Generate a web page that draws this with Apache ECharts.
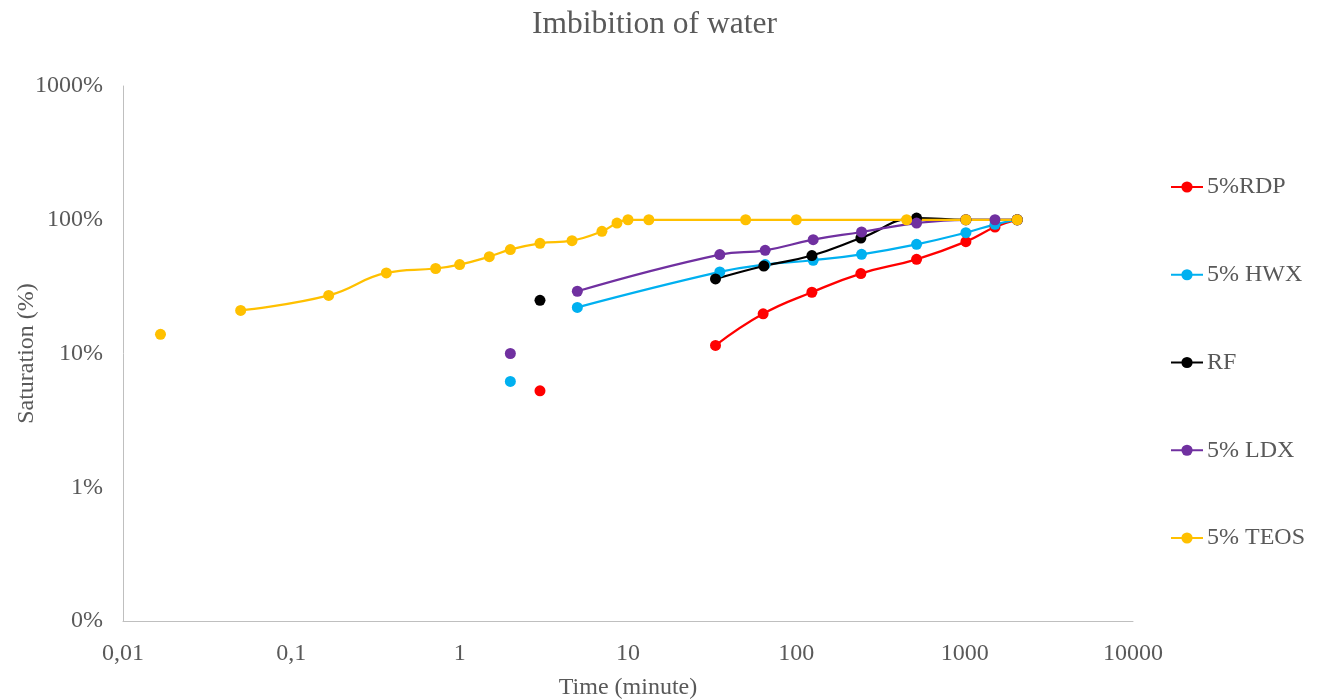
<!DOCTYPE html>
<html>
<head>
<meta charset="utf-8">
<script src="https://cdn.jsdelivr.net/npm/echarts@6/dist/echarts.min.js"></script>
<style>
html,body{margin:0;padding:0;background:#fff;}
#chart{width:1327px;height:699px;}
</style>
</head>
<body>
<div id="chart"></div>
<script>
// Time in minutes; null marks a break in the line
const rdpTime = [3, null, 33.1, 63.5, 123.7, 241.7, 518, 1017, 1514, 2052];
const rdpSat  = [5.26, null, 11.5, 19.8, 28.7, 39.6, 50.6, 68.6, 88.2, 100];

const hwxTime = [2, null, 5, 35.1, 65.3, 125.9, 244, 518, 1017, 1514, 2052];
const hwxSat  = [6.18, null, 22.1, 40.7, 46.2, 49.8, 55.2, 65.5, 80.1, 92.4, 100];

const rfTime = [3, null, 33.1, 64.1, 123.7, 241.7, 518, 1017, 2052];
const rfSat  = [25, null, 36.1, 45.1, 54, 73, 103, 100, 100];

const ldxTime = [2, null, 5, 35.1, 65.3, 125.9, 244, 518, 1017, 1514, 2052];
const ldxSat  = [10, null, 29.2, 54.9, 59.1, 71, 81, 94.5, 100, 100, 100];

const teosTime = [0.0167, null, 0.05, 0.1667, 0.3667, 0.72, 1, 1.5, 2, 3, 4.65, 7, 8.6, 10, 13.3, 50, 100, 452, 1017, 2052];
const teosSat  = [13.9, null, 21, 27.2, 40, 43.2, 46.2, 53, 59.8, 66.7, 69.8, 81.9, 94.5, 100, 100, 100, 100, 100, 100, 100];

const seriesNames = ['5%RDP', '5% HWX', 'RF', '5% LDX', '5% TEOS'];
const seriesColors = ['#FF0000', '#00B0F0', '#000000', '#7030A0', '#FFC000'];
const xTickValues = [0.01, 0.1, 1, 10, 100, 1000, 10000];
const yTickValues = [0.1, 1, 10, 100, 1000];

function pairs(t, s) {
  return t.map((x, i) => (x === null ? ['-', '-'] : [x, s[i]]));
}
const allData = [
  pairs(rdpTime, rdpSat),
  pairs(hwxTime, hwxSat),
  pairs(rfTime, rfSat),
  pairs(ldxTime, ldxSat),
  pairs(teosTime, teosSat)
];

const FONT = '"Liberation Serif", "DejaVu Serif", serif';
const TXT = '#595959';

const chart = echarts.init(document.getElementById('chart'), null, {renderer: 'canvas'});
chart.setOption({
  backgroundColor: '#ffffff',
  animation: false,
  title: {
    text: 'Imbibition of water',
    left: 527,
    top: 4,
    textStyle: {fontFamily: FONT, fontSize: 31.5, fontWeight: 'normal', color: TXT}
  },
  legend: {
    orient: 'vertical',
    left: 1165,
    top: 170,
    itemGap: 63.75,
    itemWidth: 32,
    itemHeight: 14,
    data: seriesNames,
    textStyle: {fontFamily: FONT, fontSize: 24, color: TXT, padding: [0, 0, 0, -1]}
  },
  grid: {left: 123, right: 194, top: 86, bottom: 78, containLabel: false, outerBoundsMode: 'none'},
  xAxis: {
    type: 'log',
    logBase: 10,
    min: xTickValues[0],
    max: xTickValues[xTickValues.length - 1],
    name: 'Time (minute)',
    nameLocation: 'middle',
    nameGap: 55,
    nameMoveOverlap: false,
    nameTextStyle: {fontFamily: FONT, fontSize: 24, color: TXT},
    axisLine: {show: true, lineStyle: {color: '#BFBFBF', width: 1}},
    axisTick: {show: false},
    splitLine: {show: false},
    axisLabel: {
      fontFamily: FONT, fontSize: 24, color: TXT, margin: 21,
      formatter: v => String(Number(v.toPrecision(6))).replace('.', ',')
    }
  },
  yAxis: {
    type: 'log',
    logBase: 10,
    min: yTickValues[0],
    max: yTickValues[yTickValues.length - 1],
    name: 'Saturation (%)',
    nameLocation: 'middle',
    nameRotate: 90,
    nameGap: 84,
    nameMoveOverlap: false,
    nameTextStyle: {fontFamily: FONT, fontSize: 24, color: TXT},
    axisLine: {show: true, lineStyle: {color: '#BFBFBF', width: 1}},
    axisTick: {show: false},
    splitLine: {show: false},
    axisLabel: {
      fontFamily: FONT, fontSize: 24, color: TXT, margin: 20,
      formatter: v => Math.round(v) + '%'
    }
  },
  series: seriesNames.map((name, i) => ({
    name: name,
    type: 'line',
    data: allData[i],
    smooth: 0.45,
    connectNulls: false,
    symbol: 'circle',
    symbolSize: 11,
    color: seriesColors[i],
    itemStyle: {color: seriesColors[i]},
    lineStyle: {color: seriesColors[i], width: 2.25}
  }))
});
</script>
</body>
</html>
